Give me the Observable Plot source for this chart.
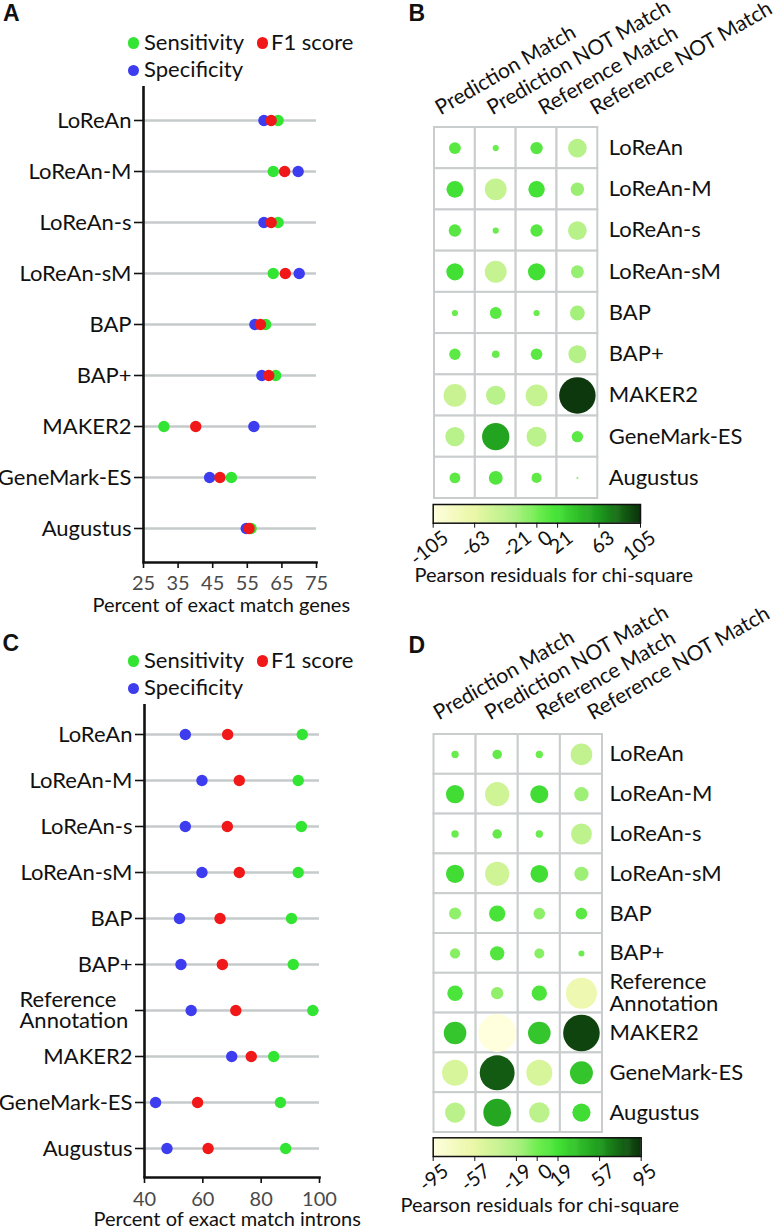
<!DOCTYPE html>
<html><head><meta charset="utf-8">
<script src="https://cdn.jsdelivr.net/npm/d3@7"></script>
<script src="https://cdn.jsdelivr.net/npm/@observablehq/plot@0.6"></script>
<style>
html,body{margin:0;padding:0;background:#fff;}
#root{position:relative;width:780px;height:1228px;overflow:hidden;font-family:Lato,sans-serif;color:#111;}
#root svg{position:absolute;overflow:visible;background:transparent;}
.letter{position:absolute;font:bold 23px "Liberation Sans",Arial,sans-serif;line-height:23px;}
.leg{position:absolute;font-size:22px;line-height:22px;white-space:nowrap;font-family:Lato,sans-serif;}
.dot{position:absolute;width:11.4px;height:11.4px;border-radius:50%;}
</style></head><body><div id="root"></div>
<script>
// ---------- data ----------
const metrics = ["Sensitivity", "Specificity", "F1 score"];
const metricColors = ["#33e533", "#3d3def", "#f01818"];

const toolsA = ["LoReAn","LoReAn-M","LoReAn-s","LoReAn-sM","BAP","BAP+","MAKER2","GeneMark-ES","Augustus"];
const sensA = [63.9, 62.5, 63.9, 62.5, 60.3, 63.2, 30.9, 50.4, 56.1];
const specA = [59.8, 69.7, 59.8, 70.0, 57.2, 59.2, 56.9, 44.1, 54.7];
const f1A   = [61.9, 65.8, 61.9, 66.0, 58.8, 61.2, 40.1, 47.1, 55.5];
const ticksA = [25, 35, 45, 55, 65, 75];
const titleA = "Percent of exact match genes";

const toolsC = ["LoReAn","LoReAn-M","LoReAn-s","LoReAn-sM","BAP","BAP+","Reference\nAnnotation","MAKER2","GeneMark-ES","Augustus"];
const sensC = [94.1, 92.7, 93.8, 92.7, 90.4, 91.0, 97.7, 84.3, 86.6, 88.4];
const specC = [54.0, 59.7, 54.0, 59.7, 52.0, 52.5, 56.0, 69.9, 43.8, 47.7];
const f1C   = [68.5, 72.5, 68.4, 72.5, 65.9, 66.7, 71.3, 76.6, 58.2, 61.8];
const ticksC = [40, 60, 80, 100];
const titleC = "Percent of exact match introns";

const columns = ["Prediction Match", "Prediction NOT Match", "Reference Match", "Reference NOT Match"];
const rampColors = ["#fffedd", "#eaf7a6", "#aef084", "#72ee52", "#44e236", "#1f9c1e", "#0c330c"];
const cbTitle = "Pearson residuals for chi-square";

const toolsB = toolsA;
const predMatchB = [11, 22, 12, 23, 3, 10, -40, -29, 9];
const predNotB   = [3, -37, 3, -37, 11, 4.5, -29, 58, 15];
const refMatchB  = [12, 21, 12, 23, 3, 10.5, -37, -31, 8];
const refNotB    = [-27, -14, -27, -13, -17, -25, 103, 10, 0.3];
const limB = 105;
const ticksB = [-105, -63, -21, 0, 21, 63, 105];

const toolsD = toolsC;
const predMatchD = [3.6, 22, 3.6, 22, -9.6, -7, 16, 34, -45, -27];
const predNotD   = [6, -39, 6, -39, 17.7, 13.6, -10, -95, 81, 51];
const refMatchD  = [3.6, 21.5, 3.6, 21, -9, -6.6, 15.6, 34, -45, -28];
const refNotD    = [-31, -13.6, -29, -13.6, 9, 2.4, -64, 89, 35, 22];
const limD = 95;
const ticksD = [-95, -57, -19, 0, 19, 57, 95];

// ---------- builders ----------
const root = document.getElementById("root");
function place(el, left, top) { el.style.left = left + "px"; el.style.top = top + "px"; root.appendChild(el); }

function dumbbell(tools, sens, spec, f1, ticks, title, o) {
  const rows = tools.flatMap((t, i) => [
    {tool: t, metric: "Sensitivity", value: sens[i]},
    {tool: t, metric: "Specificity", value: spec[i]},
    {tool: t, metric: "F1 score", value: f1[i]}
  ]);
  const x0 = ticks[0], x1 = ticks[ticks.length - 1];
  const multi = tools.filter(d => d.includes("\n"));
  return Plot.plot({
    width: 390, height: o.height,
    marginLeft: o.ml, marginRight: o.mr, marginTop: o.mt, marginBottom: o.mb,
    style: {fontFamily: "Lato, sans-serif", background: "transparent"},
    x: {domain: [x0, x1]},
    y: {type: "point", domain: tools, padding: o.pad},
    color: {domain: metrics, range: metricColors},
    marks: [
      Plot.ruleY(tools, {y: d => d, x1: x0, x2: x1, stroke: "#c5caca", strokeWidth: 2.6}),
      Plot.ruleX([x0], {stroke: "#111", strokeWidth: 2.6}),
      Plot.frame({anchor: "bottom", stroke: "#111", strokeWidth: 2.6}),
      Plot.axisX({ticks, tickSize: 6, tickPadding: o.tp, fontSize: 20, fill: "#4a4a4a", stroke: "#111", strokeWidth: 1.6, label: null}),
      Plot.axisY({tickSize: 9, tickPadding: 3, fontSize: 22, fill: "#111", stroke: "#111", strokeWidth: 1.6, label: null,
                  tickFormat: d => d.includes("\n") ? "" : d}),
      Plot.text(multi, {y: d => d, frameAnchor: "left", textAnchor: "start", dx: -125, fontSize: 22, lineHeight: 0.98, fill: "#111"}),
      Plot.dot(rows, {x: "value", y: "tool", fill: "metric", r: 5.7}),
      Plot.text([title], {frameAnchor: "bottom-left", textAnchor: "start", lineAnchor: "bottom", dx: -51, dy: o.tdy, fontSize: 20, fill: "#111"})
    ]
  });
}

function bubbleGrid(tools, series, lim, ticks, o) {
  const cells = tools.flatMap((t, i) => columns.map((c, j) => ({tool: t, col: c, ci: j, ri: i, v: series[j][i]})));
  return Plot.plot({
    width: 390, height: o.height,
    marginLeft: o.ml, marginRight: o.mr, marginTop: o.mt, marginBottom: o.mb,
    style: {fontFamily: "Lato, sans-serif", background: "transparent"},
    x: {domain: [0, columns.length], axis: null},
    y: {domain: [0, tools.length], reverse: true, axis: null},
    r: {type: "sqrt", domain: [0, lim], range: [0, o.rmax]},
    color: {type: "linear", domain: ticks, range: rampColors},
    marks: [
      Plot.rect(cells, {x1: "ci", x2: d => d.ci + 1, y1: "ri", y2: d => d.ri + 1, fill: "white", stroke: "#c9cdcd", strokeWidth: 2}),
      Plot.dot(cells, {x: d => d.ci + 0.5, y: d => d.ri + 0.5, r: d => Math.abs(d.v), fill: d => d.v}),
      Plot.text(tools, {x: columns.length, y: (d, i) => i + 0.5, dx: o.rowGap, textAnchor: "start", fontSize: 22, lineHeight: 0.98, fill: "#111"}),
      Plot.text(columns, {x: (d, i) => i * o.labStep + o.labOff, y: 0, dy: o.labDy, rotate: -30,
                          textAnchor: "start", lineAnchor: "bottom", fontSize: 21, fill: "#111"})
    ]
  });
}

function colorbar(lim, ticks, o) {
  const step = lim / 100;
  const ramp = d3.range(-lim, lim, step);
  return Plot.plot({
    width: 390, height: o.height,
    marginLeft: o.ml, marginRight: o.mr, marginTop: o.mt, marginBottom: o.mb,
    style: {fontFamily: "Lato, sans-serif", background: "transparent"},
    x: {domain: [-lim, lim]},
    color: {type: "linear", domain: ticks, range: rampColors},
    marks: [
      Plot.rect(ramp, {x1: d => d, x2: d => Math.min(d + step * 1.6, lim), fill: d => d + step / 2}),
      Plot.frame({stroke: "#111", strokeWidth: 1.5}),
      Plot.axisX(ticks, {tickSize: 5, tickFormat: () => "", stroke: "#111", label: null}),
      Plot.text(ticks, {x: d => d, frameAnchor: "bottom", rotate: -38, textAnchor: "end", lineAnchor: "top",
                        dx: 8, dy: 6, fontSize: 20, fill: "#111"}),
      Plot.text([cbTitle], {frameAnchor: "bottom-left", textAnchor: "start", lineAnchor: "bottom",
                            dx: o.tdx, dy: o.tdy, fontSize: 20, fill: "#111"})
    ]
  });
}

function legend(top) {
  const items = [
    {c: metricColors[0], t: metrics[0], dx: 133.3, dy: 0, tx: 144},
    {c: metricColors[2], t: metrics[2], dx: 262.3, dy: 0, tx: 271},
    {c: metricColors[1], t: metrics[1], dx: 133.3, dy: 27.3, tx: 144}
  ];
  for (const it of items) {
    const d = document.createElement("div"); d.className = "dot"; d.style.background = it.c;
    place(d, it.dx - 5.7, top + it.dy - 5.7);
    const s = document.createElement("div"); s.className = "leg"; s.textContent = it.t;
    place(s, it.tx, top + it.dy - 12.5);
  }
}
function letter(ch, left, top) {
  const d = document.createElement("div"); d.className = "letter"; d.textContent = ch; place(d, left, top);
}

// ---------- panels ----------
place(dumbbell(toolsA, sensA, specA, f1A, ticksA, titleA,
  {height: 615, ml: 143, mr: 74, mt: 86, mb: 53, pad: 0.6, tp: 7, tdy: 49}), 0, 0);
place(dumbbell(toolsC, sensC, specC, f1C, ticksC, titleC,
  {height: 620, ml: 144, mr: 71, mt: 94, mb: 53, pad: 0.575, tp: 8.5, tdy: 48.5}), 0, 610);

place(bubbleGrid(toolsB, [predMatchB, predNotB, refMatchB, refNotB], limB, ticksB,
  {height: 502, ml: 44, mr: 182.7, mt: 127, mb: 4, rmax: 18.4, rowGap: 11, labStep: 1.265, labOff: 0.147, labDy: -12}), 390, 0);
place(colorbar(limB, ticksB, {height: 95, ml: 42.7, mr: 140, mt: 9, mb: 67.3, tdx: -18.7, tdy: 59}), 390, 495);

place(bubbleGrid(toolsD, [predMatchD, predNotD, refMatchD, refNotD], limD, ticksD,
  {height: 524, ml: 43.5, mr: 178, mt: 124, mb: 2, rmax: 18.9, rowGap: 7, labStep: 1.218, labOff: 0.114, labDy: -14}), 390, 610);
place(colorbar(limD, ticksD, {height: 100, ml: 42.7, mr: 139.3, mt: 9.3, mb: 72, tdx: -32.7, tdy: 55.7}), 390, 1128);

legend(43);
legend(661);
letter("A", 3, 2.2);
letter("B", 408.5, 2.2);
letter("C", 2.5, 632.2);
letter("D", 408.5, 633.5);
</script>
</body></html>
